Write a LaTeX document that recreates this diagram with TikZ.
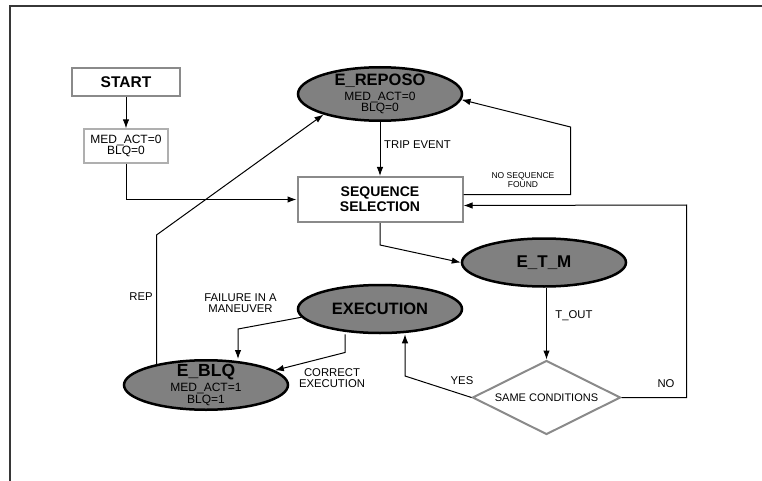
\documentclass[tikz,border=0pt]{standalone}
\usepackage{fontspec}
\setmainfont{Liberation Sans}
\usetikzlibrary{shapes.geometric,arrows.meta}

\definecolor{stategray}{RGB}{128,128,128}
\definecolor{boxgray}{RGB}{138,138,138}
\definecolor{lightboxgray}{RGB}{175,175,175}
\definecolor{framegray}{RGB}{55,55,55}

\newcommand{\titlefont}{\fontsize{16.5}{17}\selectfont\bfseries}

\tikzset{
  state/.style={ellipse, draw=black, line width=2.5pt, fill=stategray,
    minimum width=164pt, minimum height=48pt, inner xsep=0pt, inner ysep=-4pt,
    align=center, font=\fontsize{12}{11.4}\selectfont},
  startbox/.style={draw=boxgray, line width=2pt, minimum width=108pt, minimum height=28pt,
    font=\fontsize{15.5}{16}\selectfont\bfseries},
  varbox/.style={draw=lightboxgray, line width=1.3pt, minimum width=84pt, minimum height=34pt,
    inner sep=0pt, align=center, font=\fontsize{12}{11.7}\selectfont},
  selbox/.style={draw=boxgray, line width=2pt, minimum width=165pt, minimum height=45pt,
    inner sep=0pt, align=center, font=\fontsize{14}{14.8}\selectfont\bfseries},
  cond/.style={diamond, aspect=2, draw=boxgray, line width=2pt, minimum width=148pt, minimum height=74pt,
    inner sep=0pt, font=\fontsize{11}{12}\selectfont},
  lbl/.style={inner sep=0pt, align=center, font=\fontsize{11.3}{11.3}\selectfont},
  smalllbl/.style={inner sep=0pt, align=center, font=\fontsize{8.5}{8.7}\selectfont},
  link/.style={line width=1pt, ->}
}

\begin{document}
\begin{tikzpicture}[x=1pt,y=-1pt,>={Latex[length=9pt,width=6.5pt]}]
	\useasboundingbox (0,0) rectangle (762,481);
	\draw[framegray, line width=1.6pt] (10,481) -- (10,6) -- (762,6);
	
	\node[startbox] (start) at (126,82) {START};
	\node[varbox] (init) at (126,146) {MED\_ACT=0\\BLQ=0};
	
	\node[state, minimum height=53.5pt] (rep) at (380,94) {{\titlefont E\_REPOSO}\\[3.5pt]MED\_ACT=0\\BLQ=0};
	\node[selbox] (seq) at (380,199.5) {SEQUENCE\\SELECTION};
	\node[state] (etm) at (544,262.5) {{\fontsize{17}{17}\selectfont\bfseries E\_T\_M}};
	\node[state] (exe) at (380,309) {{\titlefont EXECUTION}};
	\node[state, minimum height=49.5pt] (blq) at (206,385) {{\fontsize{17.5}{17.5}\selectfont\bfseries E\_BLQ}\\[2.5pt]MED\_ACT=1\\BLQ=1};
	\node[cond] (same) at (546.5,397.5) {SAME CONDITIONS};
	
	\coordinate (nsf) at (570.5,127);
	\coordinate (nor) at (686.5,205);
	\coordinate (k1) at (380,245);
	\coordinate (k2) at (405,376);
	\coordinate (k3) at (238,329);
	\coordinate (k4) at (345,352.5);
	\coordinate (k5) at (156.5,235);
	
	\draw[link] (start) -- (init);
	\draw[link] (init) |- (seq);
	\draw[link] (rep) -- (seq);
	\draw[link] ([yshift=5pt]seq.east) -| (nsf) -- (rep.-4);
	\draw[link] (same.east) -| (nor) -- ([yshift=-6pt]seq.east);
	\draw[link] (seq.south) -- (k1) -- (etm.west);
	\draw[link] (etm.south -| same.north) -- (same.north);
	\draw[link] (same.west) -- (k2) -- (k2 |- exe.south);
	\draw[link] (exe.186) -- (k3) -- (k3 |- blq.north);
	\draw[link] (k4 |- exe.south) -- (k4) -- (blq.12);
	\draw[link] (blq.157) -- (k5) -- (rep.200);
	
	\node[lbl, anchor=west] (trip) at (384,145) {TRIP EVENT};
	\node[smalllbl] (nsfl) at (523,180) {NO SEQUENCE\\FOUND};
	\node[lbl] (nol) at (666,384) {NO};
	\node[lbl] (tout) at (574,316) {T\_OUT};
	\node[lbl] (yesl) at (462,381) {YES};
	\node[lbl] (faill) at (240.5,303) {FAILURE IN A\\MANEUVER};
	\node[lbl] (corl) at (332,378) {CORRECT\\EXECUTION};
	\node[lbl] (repl) at (141,297) {REP};
\end{tikzpicture}
\end{document}
